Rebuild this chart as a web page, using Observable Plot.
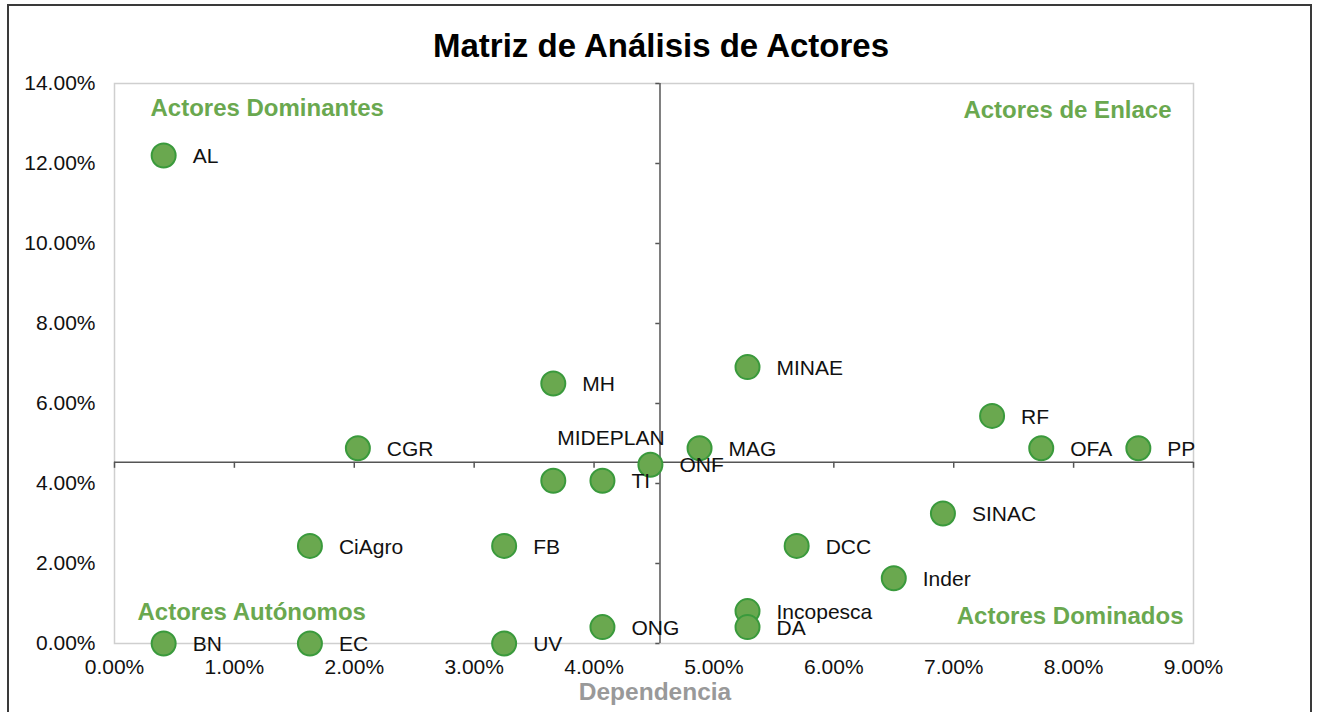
<!DOCTYPE html>
<html>
<head>
<meta charset="utf-8">
<script src="https://cdn.jsdelivr.net/npm/d3@7"></script>
<script src="https://cdn.jsdelivr.net/npm/@observablehq/plot@0.6"></script>
<style>
  html, body { margin: 0; padding: 0; background: #fff; overflow: hidden; }
  #wrap { position: relative; width: 1321px; height: 712px; overflow: hidden; }
  #border { position: absolute; left: 7px; top: 4px; width: 1305px; height: 730px; border: 2px solid #3a3a3a; box-sizing: border-box; }
  #chart { position: absolute; left: 0; top: 0; }
</style>
</head>
<body>
<div id="wrap"><div id="border"></div><div id="chart"></div></div>
<script>
// Actors (Dependencia = x, Influencia = y), in percent
const actors      = ["AL", "MH", "MINAE", "RF", "CGR", "MAG", "OFA", "PP", "ONF", "MIDEPLAN", "TI", "SINAC", "CiAgro", "FB", "DCC", "Inder", "Incopesca", "DA", "ONG", "BN", "EC", "UV"];
const dependencia = [0.41, 3.66, 5.28, 7.32, 2.03, 4.88, 7.73, 8.54, 4.47, 3.66, 4.07, 6.91, 1.63, 3.25, 5.69, 6.50, 5.28, 5.28, 4.07, 0.41, 1.63, 3.25];
const influencia  = [12.20, 6.50, 6.91, 5.69, 4.88, 4.88, 4.88, 4.88, 4.47, 4.07, 4.07, 3.25, 2.44, 2.44, 2.44, 1.63, 0.81, 0.41, 0.41, 0.00, 0.00, 0.00];

// Quadrant split (averages)
const splitX = 4.55;
const splitY = 4.53;

const xTicks = [0, 1, 2, 3, 4, 5, 6, 7, 8, 9];
const yTicks = [0, 2, 4, 6, 8, 10, 12, 14];

const quadrantNames = ["Actores Dominantes", "Actores de Enlace", "Actores Autónomos", "Actores Dominados"];

const title = "Matriz de Análisis de Actores";
const xTitle = "Dependencia";

const data = actors.map((a, i) => ({name: a, x: dependencia[i], y: influencia[i]}));
const regular = data.filter(d => d.name !== "MIDEPLAN");
const moved = data.filter(d => d.name === "MIDEPLAN");

const green = "#6aa84f";
const font = "Liberation Sans, Arial, Helvetica, sans-serif";

const chart = Plot.plot({
  width: 1321,
  height: 712,
  marginLeft: 114,
  marginRight: 128,
  marginTop: 83,
  marginBottom: 69,
  style: {fontFamily: font, background: "transparent", overflow: "visible"},
  x: {domain: [0, 9]},
  y: {domain: [0, 14]},
  marks: [
    Plot.frame({stroke: "#cfcfcf", strokeWidth: 1.5}),
    Plot.axisY(yTicks, {tickSize: 0, tickPadding: 19, fontSize: 21, fill: "#111", tickFormat: d => d.toFixed(2) + "%", label: null}),
    Plot.axisX(xTicks, {tickSize: 0, tickPadding: 16, fontSize: 21, fill: "#111", tickFormat: d => d.toFixed(2) + "%", label: null}),
    Plot.ruleY([splitY], {stroke: "#555", strokeWidth: 1.5}),
    Plot.ruleX([splitX], {stroke: "#555", strokeWidth: 1.5}),
    Plot.ruleX(xTicks, {x: d => d, y1: splitY, y2: splitY - 0.15, stroke: "#555", strokeWidth: 1.5}),
    Plot.ruleY(yTicks, {y: d => d, x1: splitX - 0.035, x2: splitX, stroke: "#555", strokeWidth: 1.5}),
    Plot.dot(data, {x: "x", y: "y", r: 12, fill: green, stroke: "#3a9a3c", strokeWidth: 2}),
    Plot.text(regular, {x: "x", y: "y", text: "name", textAnchor: "start", dx: 29, dy: 1, fontSize: 21, fill: "#111"}),
    Plot.text(moved, {x: "x", y: "y", text: "name", textAnchor: "start", dx: 4, dy: -42, fontSize: 21, fill: "#111"}),
    Plot.text([quadrantNames[0]], {frameAnchor: "top-left", dx: 36, dy: 15, fontSize: 24, fontWeight: "bold", fill: green}),
    Plot.text([quadrantNames[1]], {frameAnchor: "top-right", dx: -22, dy: 17, fontSize: 24, fontWeight: "bold", fill: green}),
    Plot.text([quadrantNames[2]], {frameAnchor: "bottom-left", dx: 23, dy: -24, fontSize: 24, fontWeight: "bold", fill: green}),
    Plot.text([quadrantNames[3]], {frameAnchor: "bottom-right", dx: -10, dy: -20, fontSize: 24, fontWeight: "bold", fill: green}),
    Plot.text([title], {frameAnchor: "top", dx: 7, dy: -50, fontSize: 33, fontWeight: "bold", fill: "#000"}),
    Plot.text([xTitle], {frameAnchor: "bottom", dx: 1, dy: 56, fontSize: 24.5, fontWeight: "bold", fill: "#999"})
  ]
});
document.getElementById("chart").appendChild(chart);
</script>
</body>
</html>
